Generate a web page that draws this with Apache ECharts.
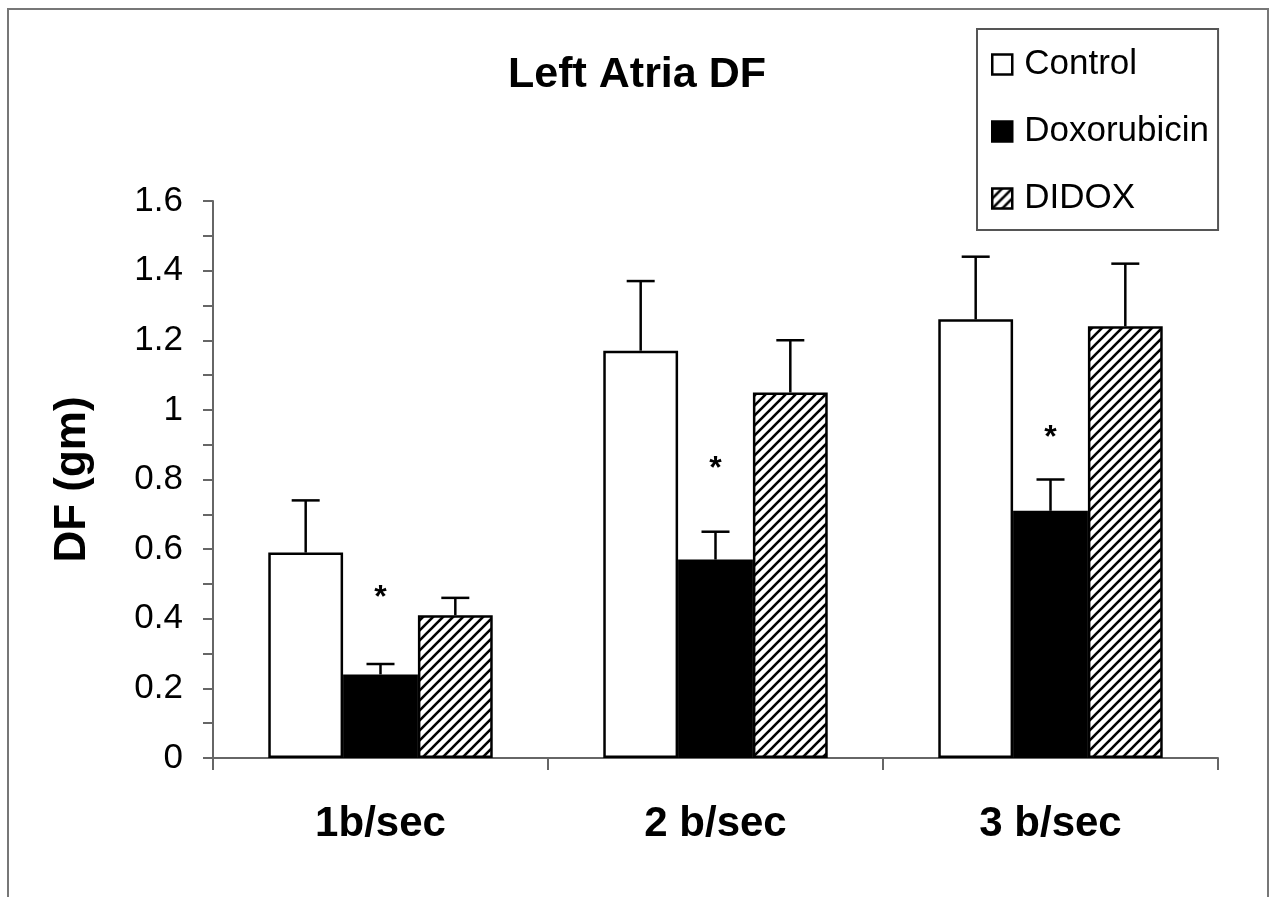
<!DOCTYPE html>
<html>
<head>
<meta charset="utf-8">
<script src="https://cdn.jsdelivr.net/npm/echarts@6/dist/echarts.min.js"></script>
<style>
html,body{margin:0;padding:0;background:#fff;}
#chart{width:1274px;height:897px;}
</style>
</head>
<body>
<div id="chart"></div>
<script>
// ---- data ----
const categories = ['1b/sec', '2 b/sec', '3 b/sec'];
const seriesNames = ['Control', 'Doxorubicin', 'DIDOX'];
const control = [0.59, 1.17, 1.26];
const controlErr = [0.15, 0.20, 0.18];
const doxorubicin = [0.24, 0.57, 0.71];
const doxorubicinErr = [0.03, 0.08, 0.09];
const didox = [0.41, 1.05, 1.24];
const didoxErr = [0.05, 0.15, 0.18];
const significanceY = [0.48, 0.85, 0.94]; // asterisk heights above Doxorubicin bars
const yTicks = { min: 0, max: 1.6, interval: 0.2 };

// ---- hatch pattern ----
function hatch() {
  const c = document.createElement('canvas');
  c.width = 10; c.height = 10;
  const g = c.getContext('2d');
  g.fillStyle = '#fff'; g.fillRect(0, 0, 10, 10);
  g.strokeStyle = '#000'; g.lineWidth = 2.6; g.lineCap = 'square';
  for (const k of [-10, 0, 10]) {
    g.beginPath(); g.moveTo(k, 10); g.lineTo(k + 10, 0); g.stroke();
  }
  return c;
}
const hatchPattern = { image: hatch(), repeat: 'repeat' };

const values = [control, doxorubicin, didox];
const errs = [controlErr, doxorubicinErr, didoxErr];
const fills = ['#ffffff', '#000000', hatchPattern];
const CAT_GAP = 0.33;

function barX(api, cat, s) {
  const band = api.size([1, 0])[0];
  const group = band * (1 - CAT_GAP);
  const bw = group / 3;
  return api.coord([cat, 0])[0] - group / 2 + bw * (s + 0.5);
}

const errData = [];
values.forEach((arr, s) => arr.forEach((v, i) => errData.push([i, s, v, errs[s][i]])));

const barSeries = seriesNames.map((name, s) => ({
  name: name,
  type: 'bar',
  data: values[s],
  barGap: '0%',
  barCategoryGap: (CAT_GAP * 100) + '%',
  itemStyle: { color: fills[s], borderColor: '#000', borderWidth: 2.5 },
  emphasis: { disabled: true },
  z: 2
}));

const chart = echarts.init(document.getElementById('chart'), null, { renderer: 'canvas' });
chart.setOption({
  animation: false,
  backgroundColor: '#fff',
  textStyle: { fontFamily: 'Liberation Sans, Arial, sans-serif', color: '#000' },
  title: {
    text: 'Left Atria DF',
    left: 'center',
    top: 49,
    textStyle: { fontSize: 43, fontWeight: 'bold', color: '#000', fontFamily: 'Liberation Sans, Arial, sans-serif' }
  },
  legend: {
    data: seriesNames,
    orient: 'vertical',
    left: 977,
    top: 29,
    padding: [18, 9, 14, 14],
    itemWidth: 20,
    itemHeight: 20,
    itemGap: 32,
    icon: 'rect',
    borderColor: '#555',
    borderWidth: 2,
    backgroundColor: '#fff',
    itemStyle: { borderColor: '#000', borderWidth: 2.5 },
    textStyle: { fontSize: 35, lineHeight: 35, color: '#000', padding: [0, 0, 0, 7], fontFamily: 'Liberation Sans, Arial, sans-serif' }
  },
  grid: { left: 213, right: 56, top: 201, bottom: 139, containLabel: false },
  xAxis: {
    type: 'category',
    data: categories,
    axisLine: { lineStyle: { color: '#666', width: 2 } },
    axisTick: { show: true, length: 12, alignWithLabel: false, lineStyle: { color: '#666', width: 2 } },
    axisLabel: { fontSize: 42, fontWeight: 'bold', color: '#000', margin: 45, fontFamily: 'Liberation Sans, Arial, sans-serif' },
    splitLine: { show: false }
  },
  yAxis: {
    type: 'value',
    min: yTicks.min,
    max: yTicks.max,
    interval: yTicks.interval,
    name: 'DF (gm)',
    nameLocation: 'middle',
    nameGap: 118,
    nameTextStyle: { fontSize: 44, fontWeight: 'bold', color: '#000', fontFamily: 'Liberation Sans, Arial, sans-serif' },
    axisLine: { show: true, lineStyle: { color: '#666', width: 2 } },
    axisTick: { show: true, length: 10, lineStyle: { color: '#666', width: 2 } },
    minorTick: { show: true, splitNumber: 2, length: 10, lineStyle: { color: '#666', width: 2 } },
    axisLabel: { fontSize: 35, color: '#000', margin: 30, fontFamily: 'Liberation Sans, Arial, sans-serif' },
    splitLine: { show: false },
    minorSplitLine: { show: false }
  },
  graphic: [{
    type: 'rect',
    shape: { x: 8, y: 9, width: 1260, height: 900 },
    style: { fill: 'none', stroke: '#777', lineWidth: 2 },
    silent: true,
    z: 100
  }],
  series: barSeries.concat([
    {
      type: 'custom',
      name: 'errors',
      data: errData,
      z: 3,
      silent: true,
      renderItem: function (params, api) {
        const cat = api.value(0), s = api.value(1), v = api.value(2), e = api.value(3);
        const x = barX(api, cat, s);
        const y0 = api.coord([cat, v])[1];
        const y1 = api.coord([cat, v + e])[1];
        const cap = 14;
        const st = { stroke: '#000', lineWidth: 2.5, fill: 'none' };
        return {
          type: 'group',
          children: [
            { type: 'line', shape: { x1: x, y1: y0, x2: x, y2: y1 }, style: st },
            { type: 'line', shape: { x1: x - cap, y1: y1, x2: x + cap, y2: y1 }, style: st }
          ]
        };
      }
    },
    {
      type: 'custom',
      name: 'significance',
      data: significanceY.map((y, i) => [i, y]),
      z: 3,
      silent: true,
      renderItem: function (params, api) {
        const cat = api.value(0), y = api.value(1);
        const x = barX(api, cat, 1);
        const py = api.coord([cat, y])[1];
        return {
          type: 'text',
          style: {
            x: x, y: py + 7,
            text: '*',
            fill: '#000',
            font: 'bold 32px "Liberation Sans", Arial, sans-serif',
            textAlign: 'center',
            textVerticalAlign: 'middle'
          }
        };
      }
    }
  ])
});
</script>
</body>
</html>
